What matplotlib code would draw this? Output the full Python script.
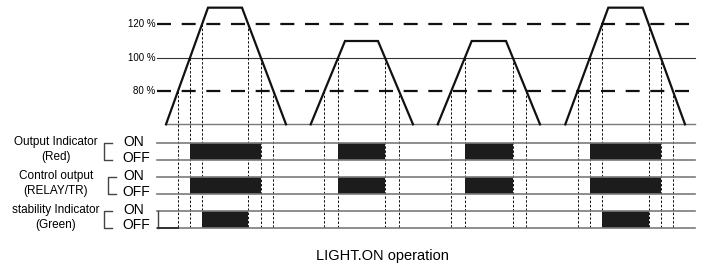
import matplotlib.pyplot as plt
import numpy as np

plt.rcParams['font.family'] = ['Liberation Sans', 'DejaVu Sans']

# ---------------- data --------------------------------------------- #
# each pulse: rise start, plateau start, plateau end, fall end (time)
pulse_t = [
    [166.0, 208.0, 242.0, 286.0],
    [310.7, 345.0, 378.0, 413.0],
    [437.7, 471.7, 506.0, 540.0],
    [565.3, 608.3, 642.7, 685.0],
]
pulse_peak = [130, 110, 110, 130]   # plateau level in %
base_level = 60                     # level where each pulse starts/ends

levels = [120, 100, 80]
level_labels = ['120 %', '100 %', '80 %']

row_names = ['Output Indicator\n(Red)', 'Control output\n(RELAY/TR)',
             'stability Indicator\n(Green)']
row_threshold = [100, 100, 120]     # level at which each output turns ON

title = 'LIGHT.ON operation'

# ---------------- layout (pixels) ---------------------------------- #
W, H = 704, 271
X0, X1 = 156.5, 695
ROW_ON = [142.7, 176.7, 210.7]
ROW_OFF = [160.0, 194.0, 227.7]
BRACKET_X = [104, 108, 104]
GRAY = '#7a7a7a'
BLACK = '#111111'


def crossings(t, peak, lvl):
    """Times where a trapezoid pulse passes a level (up, down)."""
    frac = (lvl - base_level) / (peak - base_level)
    up = t[0] + (t[1] - t[0]) * frac
    down = t[3] - (t[3] - t[2]) * frac
    return up, down


fig = plt.figure(figsize=(W / 100, H / 100), dpi=100)

# analog part: y is the level in %
ax_a = fig.add_axes([0, 0, 1, 1])
ax_a.set_xlim(0, W)
ax_a.set_ylim(-28.0, 134.6)
ax_a.axis('off')

# digital part and labels live in a pixel-like axes, drawn on top
ax_d = fig.add_axes([0, 0, 1, 1])
ax_d.set_xlim(0, W)
ax_d.set_ylim(H, 0)
ax_d.axis('off')
ax_d.patch.set_visible(False)
ax_d.set_zorder(2)

# level reference lines
for lvl, lab in zip(levels, level_labels):
    if lvl == 100:
        ax_a.plot([X0, X1], [lvl, lvl], color='#333333', lw=0.8)
    else:
        ax_a.plot([X0, 690], [lvl, lvl], color=BLACK, lw=1.6,
                  dashes=(6.3, 4.8))
    ax_a.text(X0 - 1, lvl, lab, ha='right', va='center', fontsize=7)
ax_a.plot([pulse_t[0][0], X1], [base_level, base_level], color=GRAY, lw=1)

# bottom of the dashed guides, in analog data units
y_bottom = ax_a.transData.inverted().transform(
    ax_d.transData.transform((0, ROW_OFF[-1])))[1]

for t, peak in zip(pulse_t, pulse_peak):
    ax_a.plot(t, [base_level, peak, peak, base_level], color=BLACK, lw=1.6,
              solid_joinstyle='miter')
    for lvl in levels:
        if lvl >= peak:
            continue
        for x in crossings(t, peak, lvl):
            ax_a.plot([x, x], [lvl, y_bottom], color=BLACK, lw=0.7,
                      dashes=(2.5, 1.8))

# digital rows
for i, name in enumerate(row_names):
    on, off = ROW_ON[i], ROW_OFF[i]
    ax_d.plot([X0, X1], [on, on], color=GRAY, lw=1.2)
    ax_d.plot([X0, X1], [off, off], color=GRAY, lw=1.2)
    spans = []
    for t, peak in zip(pulse_t, pulse_peak):
        if peak > row_threshold[i]:
            a, b = crossings(t, peak, row_threshold[i])
            spans.append((a, b - a))
    ax_d.broken_barh(spans, (on, off - on), facecolor='#1c1c1c',
                     edgecolor='none')

    bx = BRACKET_X[i]
    ax_d.plot([bx + 8, bx, bx, bx + 8], [on, on, off, off],
              color='#444444', lw=1)
    ax_d.text(56, (on + off) / 2 - 2, name, ha='center', va='center',
              fontsize=8.5, linespacing=1.3)
    ax_d.text(123, on + 3.3, 'ON', ha='left', va='baseline', fontsize=10)
    ax_d.text(122.5, off + 1.7, 'OFF', ha='left', va='baseline',
              fontsize=10)

# stability indicator starts OFF until the first 80 % crossing
first_80 = crossings(pulse_t[0], pulse_peak[0], 80)[0]
ax_d.plot([X0 + 1, X0 + 1], [ROW_ON[2], ROW_OFF[2]], color='#444444', lw=1)
ax_d.plot([X0 + 1, first_80], [ROW_OFF[2], ROW_OFF[2]], color='#333333',
          lw=1.4)

ax_d.text(316, 260, title, ha='left', va='baseline', fontsize=10.5)

fig.savefig('out.png', dpi=100, facecolor='white')
